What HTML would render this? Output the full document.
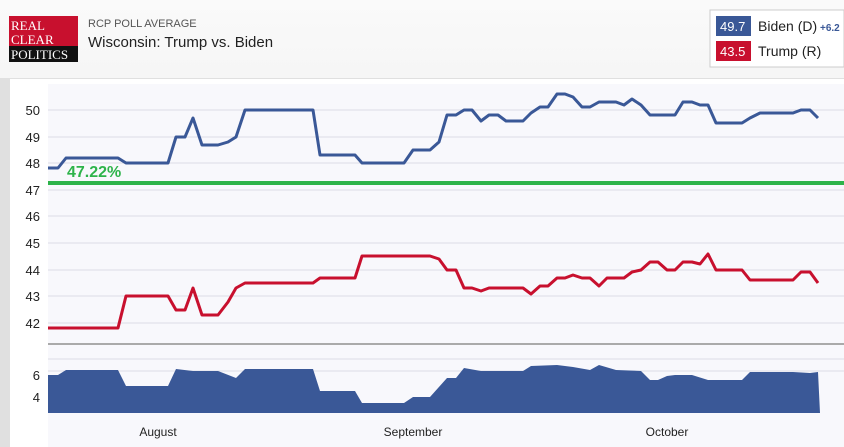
<!DOCTYPE html>
<html><head><style>
body{margin:0;width:844px;height:447px;overflow:hidden;font-family:"Liberation Sans",sans-serif;background:#e6e6e6}
</style></head><body>
<svg width="844" height="447" xmlns="http://www.w3.org/2000/svg" style="position:absolute;left:0;top:0">
<defs><linearGradient id="g" x1="0" y1="0" x2="0" y2="1"><stop offset="0" stop-color="#fafafa"/><stop offset="1" stop-color="#e2e2e2"/></linearGradient></defs>
<rect width="844" height="447" fill="url(#g)"/>
<rect x="0" y="78" width="844" height="369" fill="#e0e0e0"/>
<rect x="10" y="79" width="834" height="368" fill="#fff"/>
<rect x="48" y="84" width="796" height="363" fill="#f8f8fc"/>
<!-- logo -->
<rect x="9" y="16" width="69" height="30" fill="#c8102e"/>
<rect x="9" y="46" width="69" height="16" fill="#111"/>
<text x="11" y="30" fill="#fff" font-family="Liberation Serif" font-size="13">REAL</text>
<text x="11" y="44" fill="#fff" font-family="Liberation Serif" font-size="13">CLEAR</text>
<text x="11" y="59" fill="#fff" font-family="Liberation Serif" font-size="13">POLITICS</text>
<text x="88" y="27" fill="#555" font-size="11">RCP POLL AVERAGE</text>
<text x="88" y="47" fill="#222" font-size="15">Wisconsin: Trump vs. Biden</text>
<!-- legend -->
<rect x="710" y="10" width="134" height="57" fill="#fff" stroke="#ccc"/>
<rect x="716" y="16" width="35" height="20" fill="#3a5897"/>
<rect x="716" y="41" width="35" height="20" fill="#c8102e"/>
<text x="720" y="31" fill="#fff" font-size="13">49.7</text>
<text x="720" y="56" fill="#fff" font-size="13">43.5</text>
<text x="758" y="31" fill="#222" font-size="14">Biden (D)</text>
<text x="820" y="31" fill="#3a5897" font-size="10" font-weight="bold">+6.2</text>
<text x="758" y="56" fill="#222" font-size="14">Trump (R)</text>
<!-- grid -->
<g stroke="#dcdce6" stroke-width="1">
<line x1="48" x2="844" y1="110" y2="110"/><line x1="48" x2="844" y1="137" y2="137"/><line x1="48" x2="844" y1="163" y2="163"/><line x1="48" x2="844" y1="190" y2="190"/><line x1="48" x2="844" y1="216" y2="216"/><line x1="48" x2="844" y1="243" y2="243"/><line x1="48" x2="844" y1="270" y2="270"/><line x1="48" x2="844" y1="296" y2="296"/><line x1="48" x2="844" y1="323" y2="323"/>
<line x1="48" x2="844" y1="359" y2="359"/><line x1="48" x2="844" y1="371" y2="371"/>
</g>
<line x1="48" x2="844" y1="344" y2="344" stroke="#aaa" stroke-width="2"/>
<g font-size="13" fill="#222" text-anchor="end">
<text x="40" y="115">50</text><text x="40" y="142">49</text><text x="40" y="168">48</text><text x="40" y="195">47</text><text x="40" y="221">46</text><text x="40" y="248">45</text><text x="40" y="275">44</text><text x="40" y="301">43</text><text x="40" y="328">42</text>
<text x="40" y="380">6</text><text x="40" y="402">4</text>
</g>
<polygon fill="#3a5897" points="48,413 48,375 58,375 66,370 118,370 126,386 168,386 176,369 193,371 218,371 236,378 245,369 313,369 320,391 355,391 362,403 404,403 413,397 430,397 447,378 456,378 464,368 481,371 523,371 531,366 557,365 573,367 590,370 599,365 616,370 641,371 650,380 658,380 667,376 675,375 692,375 708,380 742,380 750,372 793,372 810,373 818,372 820,413"/>
<polyline fill="none" stroke="#3a5897" stroke-width="3" stroke-linejoin="round" points="48,168 58,168 66,158 118,158 126,163 168,163 176,137 185,137 193,118 202,145 218,145 228,142 236,137 245,110 313,110 320,155 355,155 362,163 404,163 413,150 430,150 439,142 447,115 456,115 464,110 472,110 481,121 489,115 498,115 506,121 523,121 531,113 540,107 548,107 557,94 565,94 573,97 582,107 590,107 599,102 616,102 624,105 632,99 641,105 650,115 675,115 683,102 692,102 700,105 708,105 716,123 742,123 750,118 760,113 793,113 801,110 810,110 818,118"/>
<polyline fill="none" stroke="#c8102e" stroke-width="3" stroke-linejoin="round" points="48,328 118,328 126,296 168,296 176,310 185,310 193,288 202,315 218,315 228,302 236,288 245,283 313,283 320,278 355,278 362,256 430,256 439,259 447,270 456,270 464,288 472,288 481,291 489,288 523,288 531,294 540,286 548,286 557,278 565,278 573,275 582,278 590,278 599,286 607,278 624,278 632,272 641,270 650,262 658,262 667,270 675,270 683,262 692,262 700,264 708,254 716,270 742,270 750,280 793,280 801,272 810,272 818,283"/>
<line x1="48" x2="844" y1="183" y2="183" stroke="#2db34a" stroke-width="4"/>
<text x="67" y="177" fill="#2db34a" font-size="16" font-weight="bold">47.22%</text>
<g font-size="12" fill="#222" text-anchor="middle">
<text x="158" y="436">August</text><text x="413" y="436">September</text><text x="667" y="436">October</text>
</g>
</svg>
</body></html>
